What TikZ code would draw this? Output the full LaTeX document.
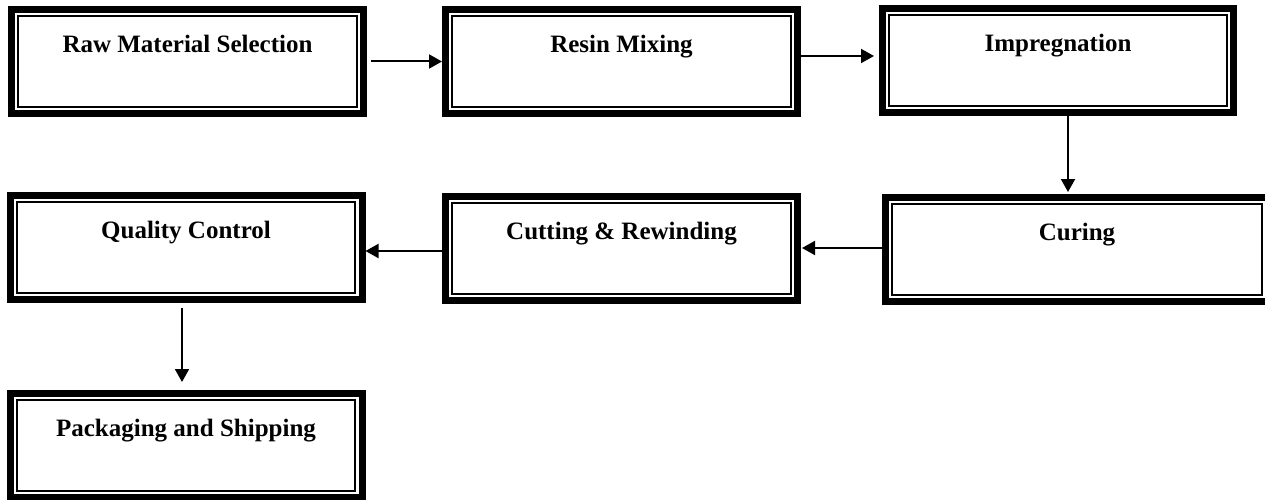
\documentclass[tikz,border=0pt]{standalone}
\usepackage{fontspec}
\setmainfont{Liberation Serif}
\usetikzlibrary{arrows.meta}
\tikzset{
  stagebox/.style={draw, line width=7pt, outer sep=3.5pt, inner sep=0pt,
    minimum width=352pt, minimum height=104pt,
    text height=43.2pt, text depth=60.8pt,
    font=\fontsize{25}{30}\selectfont\bfseries,
    append after command={\pgfextra{\draw[line width=1.9pt]
      ([shift={(10.3pt,-10.3pt)}]\tikzlastnode.north west) rectangle
      ([shift={(-10.3pt,10.3pt)}]\tikzlastnode.south east);}}},
  arr/.style={line width=2pt, -{Triangle[length=13pt,width=14pt]}}
}
\begin{document}
\begin{tikzpicture}[x=1pt,y=1pt]
\useasboundingbox (0,0) rectangle (1265,499);
\node[stagebox] (b1) at (187.5,437.5) {Raw Material Selection};
\node[stagebox] (b2) at (621.5,437.5) {Resin Mixing};
\node[stagebox, minimum width=351pt] (b3) at (1058,438.5) {Impregnation};
\node[stagebox, minimum width=383pt] (b4) at (1077,249.5) {Curing};
\node[stagebox] (b5) at (621.5,250.5) {Cutting \& Rewinding};
\node[stagebox] (b6) at (186,251.5) {Quality Control};
\node[stagebox] (b7) at (186,53.5) {Packaging and Shipping};
\draw[arr] ([xshift=4pt]b1.east) -- (b2.west);
\draw[arr] ([yshift=5.5pt]b2.east) -- ([xshift=-5pt,yshift=5.5pt]b2.east -| b3.west);
\draw[arr] ([xshift=10pt]b3.south) -- ([xshift=10pt,yshift=2pt]b3.south |- b4.north);
\draw[arr] ([yshift=1.5pt]b4.west) -- ([xshift=1pt,yshift=1.5pt]b4.west -| b5.east);
\draw[arr] ([yshift=-2.5pt]b5.west) -- ([yshift=-2.5pt]b5.west -| b6.east);
\draw[arr] ([xshift=-4pt,yshift=-5pt]b6.south) -- ([xshift=-4pt,yshift=8pt]b7.north);
\end{tikzpicture}
\end{document}
